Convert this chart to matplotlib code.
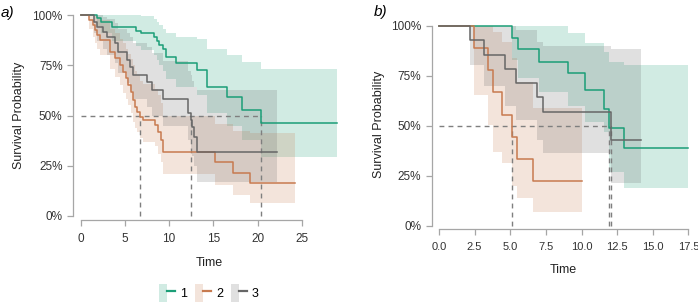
import matplotlib
matplotlib.use("Agg")
import matplotlib.pyplot as plt
from matplotlib.patches import Patch
from matplotlib.lines import Line2D
from matplotlib.legend_handler import HandlerTuple

plt.rcParams['font.family'] = ['Liberation Sans', 'DejaVu Sans']

# colours for groups 1, 2, 3
green = '#1b9e77'
orange = '#c77a4f'
grey = '#666666'
group_labels = ['1', '2', '3']

# ---- panel a) : step times, survival %, lower / upper CI %, last follow-up time
a1_t = [0, 1.9, 2.3, 3.5, 6.3, 6.8, 8.3, 8.6, 8.9, 9.35, 9.6, 10.8, 13.1, 14.25, 16.5, 18.2, 20.4]
a1_s = [100, 98.3, 96.4, 93.9, 92.2, 90.9, 89.2, 87.2, 85.1, 82.9, 79.3, 76.3, 72.6, 64.0, 59.4, 52.7, 46.1]
a1_lo = [100, 94.5, 91, 87, 84.5, 82.5, 80, 77.5, 75, 72, 68, 64, 60, 51, 45, 38, 29.5]
a1_hi = [100, 100, 100, 100, 100, 99.5, 98, 96.5, 95, 93, 91, 89, 87.9, 82.9, 80.1, 76.8, 73.0]
a1_end = 29.0

a2_t = [0, 0.98, 1.43, 1.62, 1.81, 2.18, 3.31, 3.88, 4.45, 4.82, 5.12, 5.39, 5.65, 5.88, 6.14,
        6.4, 6.71, 7.08, 8.4, 8.78, 9.08, 9.27, 15.19, 17.27, 19.15]
a2_s = [100, 97.5, 95.0, 92.5, 90.0, 87.6, 81.7, 78.4, 75.1, 71.8, 68.5, 65.2, 61.8, 57.7, 54.4,
        51.9, 49.4, 47.8, 45.3, 41.9, 37.8, 32.0, 27.0, 21.5, 16.3]
a2_lo = [100, 93, 89, 86, 83, 80, 73, 69, 65, 61, 58, 55, 51, 47, 44,
         42, 39, 37, 35, 31, 27, 20.9, 15.4, 10.4, 6.6]
a2_hi = [100, 100, 100, 99.5, 99, 97.5, 93, 91, 88, 86, 83, 80.5, 78, 75, 72,
         70, 67, 65.5, 63, 60, 56, 50, 46, 42.5, 41.2]
a2_end = 24.24

a3_t = [0, 1.54, 1.81, 2.56, 2.94, 3.88, 4.26, 5.2, 5.58, 5.88, 7.47, 8.03, 9.35, 12.17, 12.44, 12.63, 12.85, 13.12]
a3_s = [100, 96.7, 94.2, 91.7, 89.2, 85.9, 81.7, 77.6, 74.3, 70.1, 66.8, 62.7, 58.1, 51.1, 47.8, 44.4, 39.5, 32.0]
a3_lo = [100, 91, 87, 83, 80, 76, 71, 66, 62, 58, 54, 50, 45, 38, 34, 30, 25, 17]
a3_hi = [100, 100, 100, 99, 98, 96, 93, 91, 89, 86, 84, 81, 77, 72, 70, 67, 64, 62.7]
a3_end = 22.17

# ---- panel b)
b1_t = [0, 5.15, 5.57, 7.02, 9.05, 10.22, 11.58, 11.95, 12.98]
b1_s = [100, 93.8, 88.3, 82.1, 76.6, 67.9, 58.3, 48.8, 38.8]
b1_lo = [100, 83, 74, 67, 60, 52, 47, 27, 19]
b1_hi = [100, 100, 100, 100, 96.3, 91.6, 87, 82, 80.5]
b1_end = 17.5

b2_t = [0, 2.48, 3.46, 3.81, 4.4, 5.1, 5.45, 6.57]
b2_s = [100, 88.9, 77.8, 66.7, 55.6, 44.4, 33.3, 22.2]
b2_lo = [100, 65.4, 50.4, 37, 31.2, 20, 13.7, 7.0]
b2_hi = [100, 100, 100, 97, 92, 84, 72, 59]
b2_end = 10.0

b3_t = [0, 2.18, 3.16, 4.63, 5.38, 6.9, 7.32, 12.05]
b3_s = [100, 92.9, 85.7, 78.6, 71.4, 64.3, 57.1, 42.9]
b3_lo = [100, 80.5, 70, 60, 53, 43, 36.3, 21.2]
b3_hi = [100, 100, 100, 100, 98, 92, 90, 88.3]
b3_end = 14.2

a_xticks = [0, 5, 10, 15, 20, 25]
b_xticks = [0, 2.5, 5, 7.5, 10, 12.5, 15, 17.5]
yticks = [0, 25, 50, 75, 100]

W, H = 698, 307
fig = plt.figure(figsize=(W / 100, H / 100), dpi=100)


def rect(left, top, right, bottom):
    # pixel box -> figure fraction
    return [left / W, (H - bottom) / H, (right - left) / W, (bottom - top) / H]


def km_panel(ax, groups, xlim, ylim, xticks, fmt, xsize):
    medians = []
    for t, s, lo, hi, end, col in groups:
        tt = t + [end]
        ax.fill_between(tt, lo + [lo[-1]], hi + [hi[-1]], step='post',
                        color=col, alpha=0.2, linewidth=0, zorder=1)
    for t, s, lo, hi, end, col in groups:
        for ti, si in zip(t, s):
            if si <= 50:
                medians.append(ti)
                break
    ax.plot([0, max(medians)], [50, 50], ls=(0, (3.5, 3)), color='#7f7f7f', lw=1, zorder=2)
    for m in medians:
        ax.plot([m, m], [0, 50], ls=(0, (3.5, 3)), color='#7f7f7f', lw=1, zorder=2)
    for t, s, lo, hi, end, col in groups:
        ax.step(t + [end], s + [s[-1]], where='post', color=col, lw=1.1, zorder=3)

    ax.set_xlim(*xlim)
    ax.set_ylim(*ylim)
    ax.set_xticks(xticks)
    ax.set_xticklabels([fmt % x for x in xticks])
    ax.set_yticks(yticks)
    ax.set_yticklabels(['%d%%' % y for y in yticks])
    for side in ['top', 'right']:
        ax.spines[side].set_visible(False)
    ax.spines['left'].set_bounds(0, 100)
    ax.spines['bottom'].set_bounds(xticks[0], xticks[-1])
    for side in ['left', 'bottom']:
        ax.spines[side].set_color('#a6a6a6')
        ax.spines[side].set_linewidth(0.9)
    ax.tick_params(colors='#a6a6a6', labelcolor='#333333', length=4, width=0.9,
                   labelsize=8.5)
    ax.tick_params(axis='x', pad=5, labelsize=xsize)
    ax.tick_params(axis='y', pad=3.5)
    ax.patch.set_alpha(0)


ax_a = fig.add_axes(rect(73, 11, 346, 220))
km_panel(ax_a,
         [(a1_t, a1_s, a1_lo, a1_hi, a1_end, green),
          (a2_t, a2_s, a2_lo, a2_hi, a2_end, orange),
          (a3_t, a3_s, a3_lo, a3_hi, a3_end, grey)],
         (-0.87, 30.0), (-2, 102), a_xticks, '%g', 8.5)

ax_b = fig.add_axes(rect(431.7, 20, 694, 229.3))
km_panel(ax_b,
         [(b1_t, b1_s, b1_lo, b1_hi, b1_end, green),
          (b2_t, b2_s, b2_lo, b2_hi, b2_end, orange),
          (b3_t, b3_s, b3_lo, b3_hi, b3_end, grey)],
         (-0.51, 17.89), (-1.8, 103), b_xticks, '%.1f', 8)

# axis titles and panel tags (placed in pixels)
fig.text(209 / W, 1 - 263 / H, 'Time', ha='center', va='center', fontsize=9, color='#222222')
fig.text(563 / W, 1 - 270 / H, 'Time', ha='center', va='center', fontsize=9, color='#222222')
fig.text(19 / W, 1 - 115.5 / H, 'Survival Probability', rotation=90, ha='center', va='center',
         fontsize=9, color='#222222')
fig.text(379 / W, 1 - 124.6 / H, 'Survival Probability', rotation=90, ha='center', va='center',
         fontsize=9, color='#222222')
fig.text(1 / W, 1 - 13 / H, 'a)', style='italic', ha='left', va='center', fontsize=11)
fig.text(374 / W, 1 - 12 / H, 'b)', style='italic', ha='left', va='center', fontsize=11)

handles = [(Patch(facecolor=c, alpha=0.2, linewidth=0), Line2D([], [], color=c, lw=1.6))
           for c in [green, orange, grey]]
fig.legend(handles, group_labels, handler_map={tuple: HandlerTuple(ndivide=None, pad=0)},
           loc='center', bbox_to_anchor=(209 / W, 1 - 293 / H), ncol=3, frameon=False,
           fontsize=9, handlelength=1.3, handleheight=1.8, handletextpad=0.4,
           columnspacing=0.6, borderaxespad=0)

fig.savefig('out.png', dpi=100)
